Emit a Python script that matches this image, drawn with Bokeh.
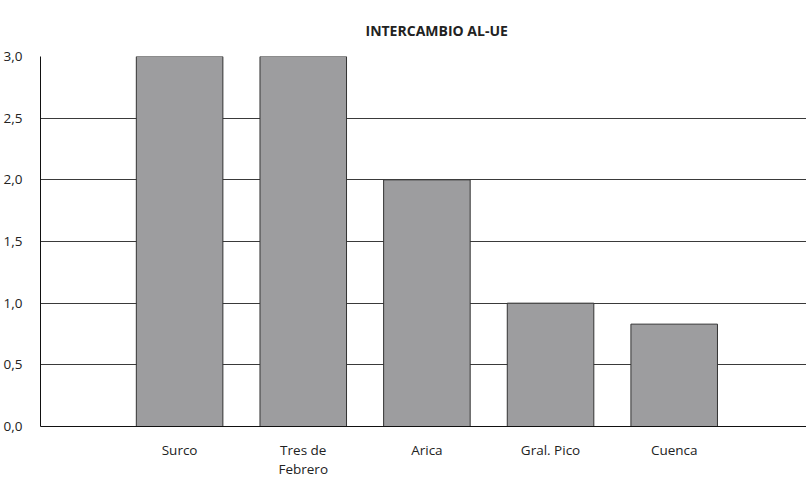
from bokeh.plotting import figure
from bokeh.models import FixedTicker, Range1d
from bokeh.embed import file_html
from bokeh.resources import INLINE

title_text = "INTERCAMBIO AL-UE"
categories = ["Surco", "Tres de\nFebrero", "Arica", "Gral. Pico", "Cuenca"]
values = [3.0, 3.0, 2.0, 1.0, 0.83]
positions = [1, 2, 3, 4, 5]
y_ticks = [0.0, 0.5, 1.0, 1.5, 2.0, 2.5, 3.0]
y_tick_labels = ["0,0", "0,5", "1,0", "1,5", "2,0", "2,5", "3,0"]

p = figure(output_backend="svg", toolbar_location=None,
           x_range=Range1d(-0.125, 6.07), y_range=Range1d(0, 3.0),
           frame_width=766, frame_height=370,
           min_border_left=39, min_border_right=0, min_border_top=56, min_border_bottom=49)

p.title.text = title_text
p.title.text_font = "Open Sans"
p.title.text_font_size = "14px"
p.title.text_font_style = "bold"
p.title.text_color = "#222222"
p.title.align = "left"
p.title.offset = 325
p.title.standoff = 33

p.vbar(x=positions, top=values, width=0.7, fill_color="#9d9d9f",
       line_color="#333333", line_width=1)

p.outline_line_color = None
p.xgrid.grid_line_color = None
p.ygrid.ticker = FixedTicker(ticks=y_ticks)
p.ygrid.grid_line_color = "#3a3a3a"
p.ygrid.grid_line_width = 1

p.yaxis.ticker = FixedTicker(ticks=y_ticks)
p.yaxis.major_label_overrides = dict(zip(y_ticks, y_tick_labels))
p.xaxis.ticker = FixedTicker(ticks=positions)
p.xaxis.major_label_overrides = dict(zip(positions, categories))

for ax in (p.xaxis, p.yaxis):
    ax.axis_line_color = "#111111"
    ax.axis_line_width = 1
    ax.major_tick_line_color = None
    ax.minor_tick_line_color = None
    ax.major_label_text_font = "Open Sans"
    ax.major_label_text_font_size = "13.5px"
    ax.major_label_text_color = "#222222"

p.xaxis.major_label_text_line_height = 1.1
p.xaxis.major_label_standoff = 8
p.yaxis.major_label_standoff = 12

open("out.html", "w").write(file_html(p, INLINE))
